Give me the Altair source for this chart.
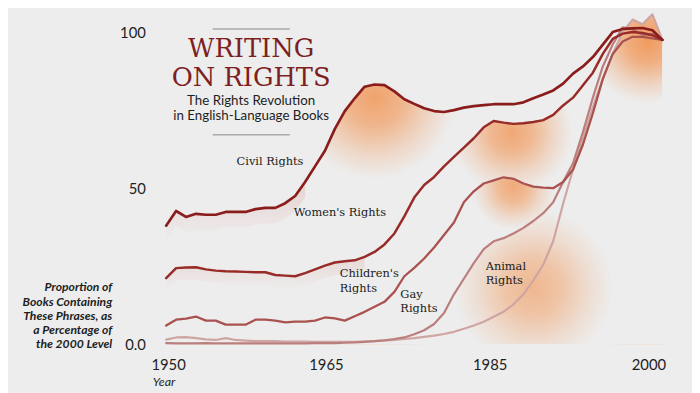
import altair as alt
import pandas as pd

# ---------------- data ----------------
years = list(range(1950, 2001))

civil_rights = [38.0, 42.7, 40.8, 41.8, 41.5, 41.5, 42.4, 42.4, 42.4, 43.3,
                43.7, 43.7, 45.2, 47.5, 52.0, 57.0, 62.0, 69.0, 74.7, 78.8,
                82.5, 83.2, 83.0, 81.0, 78.5, 77.0, 75.6, 74.7, 74.4, 75.0,
                75.8, 76.3, 76.6, 76.9, 76.9, 76.9, 77.5, 78.8, 80.0, 81.3,
                83.5, 86.7, 89.0, 92.0, 96.0, 100.0, 101.0, 101.2, 101.3, 100.6,
                97.5]
womens_rights = [21.2, 24.4, 24.6, 24.7, 24.0, 23.6, 23.4, 23.3, 23.2, 23.1,
                 23.1, 22.2, 22.0, 21.8, 22.8, 24.0, 25.2, 26.2, 26.6, 26.9,
                 28.0, 29.6, 32.0, 35.5, 41.0, 47.0, 51.0, 53.6, 57.0, 60.0,
                 63.0, 66.0, 69.5, 71.5, 71.0, 70.6, 70.8, 71.2, 71.8, 73.5,
                 76.5, 79.0, 83.0, 87.0, 93.0, 97.8, 99.5, 100.0, 99.7, 99.0,
                 97.5]
childrens_rights = [6.0, 7.9, 8.2, 8.9, 7.6, 7.6, 6.3, 6.3, 6.3, 7.9,
                    7.9, 7.6, 7.0, 7.3, 7.3, 7.6, 8.6, 8.3, 7.6, 9.0,
                    10.4, 12.0, 13.6, 16.8, 21.8, 24.5, 27.5, 31.0, 35.0, 39.0,
                    45.5, 49.0, 51.5, 52.5, 53.5, 53.0, 51.5, 50.5, 50.2, 50.0,
                    52.0, 56.0, 64.0, 74.0, 85.0, 93.0, 97.0, 98.5, 98.5, 98.0,
                    97.5]
gay_rights = [0.4, 0.3, 0.3, 0.3, 0.4, 0.3, 0.3, 0.3, 0.3, 0.3,
              0.3, 0.3, 0.3, 0.3, 0.3, 0.4, 0.4, 0.4, 0.5, 0.6,
              0.8, 1.0, 1.3, 1.7, 2.2, 3.2, 4.5, 6.5, 10.0, 16.0,
              21.0, 26.0, 30.5, 33.0, 34.0, 35.5, 37.3, 39.5, 42.0, 45.5,
              52.0, 58.0, 68.0, 79.0, 89.0, 96.0, 101.5, 101.0, 99.0, 99.5,
              97.5]
animal_rights = [1.5, 2.2, 2.3, 2.0, 1.6, 1.4, 2.0, 1.4, 1.2, 1.0,
                 1.0, 1.0, 0.9, 0.9, 0.9, 0.8, 0.8, 0.8, 0.8, 0.8,
                 0.9, 1.0, 1.2, 1.4, 1.7, 2.0, 2.4, 2.8, 3.3, 4.0,
                 5.0, 6.0, 7.2, 8.8, 10.4, 12.8, 16.0, 20.5, 25.5, 33.0,
                 45.0, 56.0, 66.0, 76.0, 85.0, 93.0, 100.0, 104.0, 102.5, 105.7,
                 97.5]

series_names = ["Civil Rights", "Women's Rights", "Children's Rights",
                "Gay Rights", "Animal Rights"]
series_values = [civil_rights, womens_rights, childrens_rights,
                 gay_rights, animal_rights]

x_tick_labels = ["1950", "1965", "1985", "2000"]
x_tick_years = [1950.2, 1966.1, 1982.6, 1998.6]   # where the reference prints them
y_tick_values = [0, 50, 100]
y_tick_labels = ["0.0", "50", "100"]

label_text = ["Civil Rights", "Women's Rights", "Children's", "Rights",
              "Gay", "Rights", "Animal", "Rights"]
label_year = [1957.1, 1962.85, 1967.5, 1967.5, 1973.6, 1973.6, 1982.2, 1982.2]
label_value = [58.5, 42.1, 22.5, 17.7, 15.8, 11.4, 24.7, 20.3]

title_lines = ["WRITING", "ON RIGHTS"]
subtitle_lines = ["The Rights Revolution", "in English-Language Books"]
y_title_lines = ["Proportion of", "Books Containing", "These Phrases, as",
                 "a Percentage of", "the 2000 Level"]

# ---------------- styling ----------------
W, H = 502, 338
Y_MAX = 107
BG = "#ededed"
series_colors = {"Civil Rights": "#8a1c1c", "Women's Rights": "#982b28",
                 "Children's Rights": "#a9524f", "Gay Rights": "#ba7f7d",
                 "Animal Rights": "#cfa5a4"}
series_widths = {"Civil Rights": 2.7, "Women's Rights": 2.5,
                 "Children's Rights": 2.3, "Gay Rights": 2.2, "Animal Rights": 2.2}

rows = []
for name, vals in zip(series_names, series_values):
    for yr, v in zip(years, vals):
        rows.append({"year": yr, "value": v, "series": name})
df = pd.DataFrame(rows)

ann_df = pd.DataFrame({"year": label_year, "value": label_value, "label": label_text})

x_label_expr = "[" + ",".join(f"'{t}'" for t in x_tick_labels) + "][indexof([" + \
    ",".join(str(v) for v in x_tick_years) + "], datum.value)]"
y_label_expr = "[" + ",".join(f"'{t}'" for t in y_tick_labels) + "][indexof([" + \
    ",".join(str(v) for v in y_tick_values) + "], datum.value)]"

x_enc = alt.X("year:Q",
              scale=alt.Scale(domain=[1950, 2000], nice=False, zero=False),
              axis=alt.Axis(values=x_tick_years, labelExpr=x_label_expr,
                            ticks=False, domain=False, grid=False,
                            labelFont="Lato", labelFontSize=15, labelColor="#1e1e1e",
                            labelPadding=13, labelFlush=False, labelOverlap=False,
                            title="Year", titleFont="Lato", titleFontStyle="italic",
                            titleFontWeight="normal", titleFontSize=12.5,
                            titleColor="#1e1e1e", titleX=-14, titleY=38,
                            titleAlign="left", titleBaseline="middle", titleAngle=0))
y_enc = alt.Y("value:Q",
              scale=alt.Scale(domain=[0, Y_MAX], nice=False, zero=False),
              axis=alt.Axis(values=y_tick_values, labelExpr=y_label_expr,
                            ticks=False, domain=False, grid=False,
                            labelFont="Lato", labelFontSize=15, labelColor="#1e1e1e",
                            labelPadding=21, labelFlush=False, labelOverlap=False,
                            title=y_title_lines, titleFont="Lato",
                            titleFontStyle="italic", titleFontWeight="bold",
                            titleFontSize=12.3, titleLineHeight=14.3,
                            titleColor="#1e1e1e", titleAngle=0, titleAlign="right",
                            titleBaseline="top", titleX=-55, titleY=274))


def px_x(yr):
    return (yr - 1950) * W / 50.0


def px_y(v):
    return (Y_MAX - v) * H / Y_MAX


def glow_layer(series, y0, y1, floor, cyear, cval, radius, alpha,
               rgb=(241, 150, 86)):
    vals = dict(zip(years, series_values[series_names.index(series)]))
    sub = [vals[y] for y in years if y0 <= y <= y1]
    left, right = px_x(y0), px_x(y1)
    top, bottom = px_y(max(sub)), px_y(floor)
    w, h = right - left, bottom - top
    s = max(w, h)
    u = 0.5 + (px_x(cyear) - left - w / 2) / s
    v = 0.5 + (px_y(cval) - top - h / 2) / s
    r = radius / s
    c = "rgba(%d,%d,%d,%s)" % (rgb[0], rgb[1], rgb[2], "%.3f")
    grad = alt.RadialGradient(
        gradient="radial", x1=u, y1=v, r1=0, x2=u, y2=v, r2=r,
        stops=[alt.GradientStop(color=c % alpha, offset=0),
               alt.GradientStop(color=c % (alpha * 0.75), offset=0.35),
               alt.GradientStop(color=c % (alpha * 0.3), offset=0.7),
               alt.GradientStop(color=c % 0.0, offset=1)])
    return (alt.Chart(df)
            .transform_filter((alt.datum.series == series) &
                              (alt.datum.year >= y0) & (alt.datum.year <= y1))
            .transform_calculate(floor=str(floor))
            .mark_area(fill=grad, interpolate="linear")
            .encode(x=x_enc, y=y_enc, y2="floor:Q"))


def shade_layer(series, y0, y1, depth, alpha):
    grad = alt.LinearGradient(
        gradient="linear", x1=0, y1=0, x2=0, y2=1,
        stops=[alt.GradientStop(color="rgba(190,80,60,%.3f)" % alpha, offset=0),
               alt.GradientStop(color="rgba(190,80,60,0)", offset=1)])
    return (alt.Chart(df)
            .transform_filter((alt.datum.series == series) &
                              (alt.datum.year >= y0) & (alt.datum.year <= y1))
            .transform_calculate(lo="datum.value - %s" % depth)
            .mark_area(fill=grad, interpolate="linear")
            .encode(x=x_enc, y=y_enc, y2="lo:Q"))


layers = [
    shade_layer("Civil Rights", 1950, 1964, 5, 0.16),
    shade_layer("Women's Rights", 1950, 1970, 4, 0.13),
    glow_layer("Civil Rights", 1955, 1992, 0, 1971.0, 79, 82, 0.85),
    glow_layer("Women's Rights", 1972, 1996, 0, 1984.8, 68, 62, 0.8),
    glow_layer("Children's Rights", 1974, 1995, 0, 1985.0, 50, 42, 0.75),
    glow_layer("Gay Rights", 1970, 2000, 0, 1987.0, 18, 80, 0.62),
    glow_layer("Animal Rights", 1990, 2000, 0, 1998.5, 97, 62, 0.95),
]

for name in reversed(series_names):
    layers.append(
        alt.Chart(df)
        .transform_filter(alt.datum.series == name)
        .mark_line(color=series_colors[name], strokeWidth=series_widths[name],
                   strokeJoin="round", strokeCap="round")
        .encode(x=x_enc, y=y_enc, order="year:Q"))

layers.append(
    alt.Chart(ann_df)
    .mark_text(align="left", baseline="middle", font="DejaVu Serif",
               fontSize=11.5, color="#1a1a1a")
    .encode(x=x_enc, y=y_enc, text="label:N"))

dummy = pd.DataFrame({"k": [0]})
layers.append(
    alt.Chart(dummy)
    .mark_text(text=title_lines, align="center", baseline="alphabetic",
               font="DejaVu Serif", fontSize=26, lineHeight=30, color="#7d1f1f")
    .encode(x=alt.value(86), y=alt.value(47)))
layers.append(
    alt.Chart(dummy)
    .mark_text(text=subtitle_lines, align="center", baseline="alphabetic",
               font="Lato", fontSize=13.5, lineHeight=15.5, color="#1e1e1e")
    .encode(x=alt.value(86), y=alt.value(96)))
layers.append(
    alt.Chart(dummy).mark_rule(color="#a9a9a9", strokeWidth=1.5)
    .encode(x=alt.value(47), x2=alt.value(125), y=alt.value(19)))
layers.append(
    alt.Chart(dummy).mark_rule(color="#a9a9a9", strokeWidth=1.5)
    .encode(x=alt.value(47), x2=alt.value(125), y=alt.value(126)))

chart = (alt.layer(*layers)
         .properties(width=W, height=H, background=BG,
                     padding={"left": 160, "top": 0, "right": 30, "bottom": 47},
                     autosize=alt.AutoSizeParams(type="none"))
         .configure_view(stroke=None))

chart.save("out.html", embed_options={"renderer": "svg", "actions": False})
